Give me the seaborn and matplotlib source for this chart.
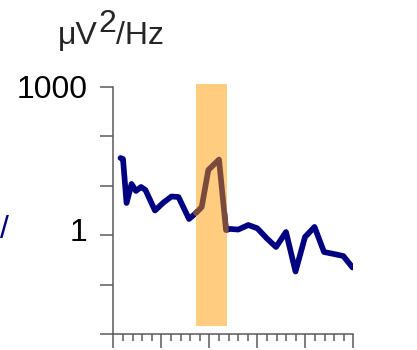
import matplotlib
matplotlib.use("Agg")
import matplotlib.pyplot as plt
import matplotlib.ticker as mticker
import matplotlib.transforms as mtransforms
import numpy as np
import pandas as pd
import seaborn as sns

# Power spectrum (frequency bins, power in µV²/Hz)
freq = [0.75, 1.01, 1.38, 1.90, 2.36, 2.89, 3.35, 4.34, 5.23, 6.06, 6.79, 7.89,
        8.61, 9.21, 9.90, 11.01, 11.74, 12.16, 13.02, 14.06, 15.00, 15.98, 16.95,
        17.99, 18.98, 19.97, 20.96, 21.95, 22.99, 23.96, 24.92]
power = [36.5, 34.9, 4.48, 10.9, 7.85, 9.46, 8.22, 3.16, 4.59, 6.07, 5.93, 2.13,
         2.81, 3.73, 20.9, 34.0, 1.27, 1.34, 1.30, 1.61, 1.38, 0.865, 0.577, 1.16,
         0.184, 0.92, 1.47, 0.457, 0.416, 0.379, 0.222]

# Highlighted frequency band
band_lo, band_hi = 8.58, 11.87

ytick_vals = [0.01, 0.1, 1, 10, 100, 1000]
ytick_text = ["", "", "1", "", "", "1000"]

sns.set_style("ticks")
plt.rcParams["font.family"] = ["Liberation Sans", "DejaVu Sans"]

W, H = 417, 350
fig = plt.figure(figsize=(W / 100, H / 100), dpi=100)
ax = fig.add_axes([113.3 / W, 16 / H, 240 / W, 247 / H])

spec = pd.DataFrame({"freq": freq, "power": power})
in_band = spec[(spec["freq"] >= band_lo) & (spec["freq"] <= band_hi)]

lw = 4.1
sns.lineplot(data=spec, x="freq", y="power", ax=ax, color="#000080",
             linewidth=lw, estimator=None, sort=False, zorder=1)
ax.axvspan(band_lo, band_hi, ymin=8 / 247, ymax=250 / 247, color="#ffcc80",
           linewidth=0, zorder=2, clip_on=False)
sns.lineplot(data=in_band, x="freq", y="power", ax=ax, color="#7a4a3c",
             linewidth=lw, estimator=None, sort=False, zorder=3)

ax.set_yscale("log")
ax.set_ylim(0.01, 1000)
ax.set_xlim(0, 25)
ax.yaxis.set_major_locator(mticker.FixedLocator(ytick_vals))
ax.yaxis.set_major_formatter(mticker.FixedFormatter(ytick_text))
ax.yaxis.set_minor_locator(mticker.NullLocator())
ax.xaxis.set_major_locator(mticker.MultipleLocator(5))
ax.xaxis.set_minor_locator(mticker.MultipleLocator(1))
ax.xaxis.set_major_formatter(mticker.NullFormatter())
ax.set_xlabel("")
ax.set_ylabel("")

sns.despine(ax=ax)
spine_col = "#5a5a5a"
for s in ("left", "bottom"):
    ax.spines[s].set_color(spine_col)
    ax.spines[s].set_linewidth(1.1)
ax.tick_params(axis="y", which="major", length=9.4, width=1.1, color=spine_col,
               pad=9, labelsize=23, labelcolor="black")
ax.tick_params(axis="x", which="major", length=10, width=1.1, color=spine_col)
ax.tick_params(axis="x", which="minor", length=5, width=1.1, color=spine_col)

# the "1" label sits a little above its tick
one_label = ax.yaxis.get_major_ticks()[ytick_vals.index(1)].label1
one_label.set_transform(one_label.get_transform() +
                        mtransforms.ScaledTranslation(0, 6 / 100, fig.dpi_scale_trans))

# Unit label with full-size raised exponent
fs = 23
renderer = fig.canvas.get_renderer()
t1 = fig.text(58 / W, 1 - 44 / H, "μV", fontsize=fs, va="baseline", ha="left")
bb1 = t1.get_window_extent(renderer)
t2 = fig.text(bb1.x1 / W, 1 - 32.5 / H, "2", fontsize=fs, va="baseline", ha="left")
bb2 = t2.get_window_extent(renderer)
fig.text(bb2.x1 / W, 1 - 44 / H, "/Hz", fontsize=fs, va="baseline", ha="left")

fig.text(0 / W, 1 - 238 / H, "/", fontsize=fs, color="#000080", va="baseline",
         ha="left")

fig.savefig("out.png", dpi=100)
